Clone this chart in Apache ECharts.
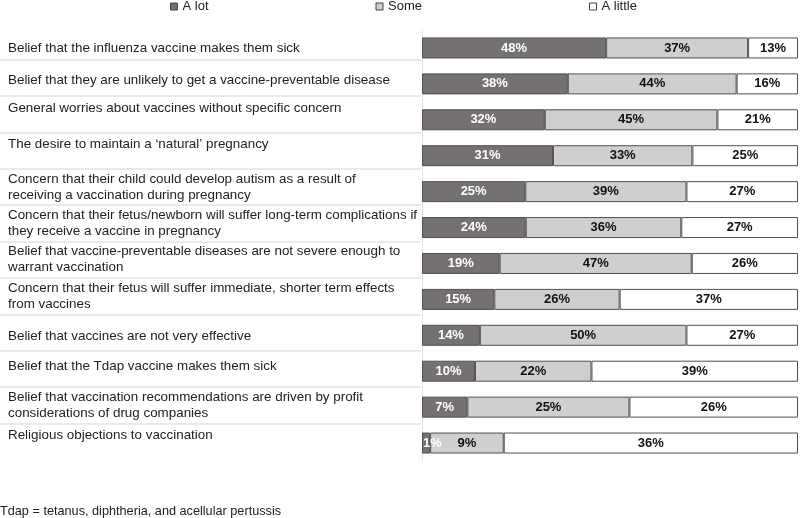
<!DOCTYPE html>
<html>
<head>
<meta charset="utf-8">
<script src="https://cdn.jsdelivr.net/npm/echarts@6/dist/echarts.min.js"></script>
<style>html,body{margin:0;padding:0;background:#fff;}#c{width:800px;height:518px;}</style>
</head>
<body>
<div id="c"></div>
<script>
const categories = [
  "Belief that the influenza vaccine makes them sick",
  "Belief that they are unlikely to get a vaccine-preventable disease",
  "General worries about vaccines without specific concern",
  "The desire to maintain a \u2018natural\u2019 pregnancy",
  "Concern that their child could develop autism as a result of\nreceiving a vaccination during pregnancy",
  "Concern that their fetus/newborn will suffer long-term complications if\nthey receive a vaccine in pregnancy",
  "Belief that vaccine-preventable diseases are not severe enough to\nwarrant vaccination",
  "Concern that their fetus will suffer immediate, shorter term effects\nfrom vaccines",
  "Belief that vaccines are not very effective",
  "Belief that the Tdap vaccine makes them sick",
  "Belief that vaccination recommendations are driven by profit\nconsiderations of drug companies",
  "Religious objections to vaccination"
];
const seriesNames = ["A lot", "Some", "A little"];
const aLot    = [48, 38, 32, 31, 25, 24, 19, 15, 14, 10, 7, 1];
const some    = [37, 44, 45, 33, 39, 36, 47, 26, 50, 22, 25, 9];
const aLittle = [13, 16, 21, 25, 27, 27, 26, 37, 27, 39, 26, 36];
const footnote = "Tdap = tetanus, diphtheria, and acellular pertussis";

// layout only: vertical nudge (px) of each row's text inside its table cell
const labelNudge = [7, 3, -6, -6, 0, 0, 0, 0, 4, -3, 0, -6];

const raw = [aLot, some, aLittle];
const totals = categories.map((_, i) => aLot[i] + some[i] + aLittle[i]);
const colors = ["#767171", "#d0cece", "#ffffff"];
const labelColors = ["#ffffff", "#111111", "#111111"];
const FONT = "'Liberation Sans', Arial, Helvetica, sans-serif";

const tableText = {fontFamily: FONT, fontSize: 13.4, lineHeight: 16, color: '#222'};
const tableRich = {};
labelNudge.forEach((d, i) => {
  tableRich['n' + i] = Object.assign({}, tableText, {
    padding: d >= 0 ? [2 * d, 0, 0, 0] : [0, 0, -2 * d, 0]
  });
});

const chart = echarts.init(document.getElementById('c'), null, {renderer: 'canvas'});
chart.setOption({
  animation: false,
  backgroundColor: '#ffffff',
  title: {
    text: footnote,
    left: 0, top: 505, padding: 0,
    textStyle: {fontFamily: FONT, fontSize: 12.7, fontWeight: 'normal', color: '#222'}
  },
  legend: {
    top: 0, left: 170, padding: 0,
    itemWidth: 7, itemHeight: 7, itemGap: 167,
    icon: 'rect',
    data: seriesNames,
    textStyle: {fontFamily: FONT, fontSize: 13, color: '#222'},
    itemStyle: {borderColor: '#444', borderWidth: 1}
  },
  grid: [
    {left: 0, width: 421, top: 23, height: 437, containLabel: false},
    {left: 422, right: 2, top: 30, height: 431, containLabel: false}
  ],
  xAxis: [
    {gridIndex: 0, type: 'value', show: false, min: 0, max: 100},
    {gridIndex: 1, type: 'value', show: false, min: 0, max: 100}
  ],
  yAxis: [
    {
      gridIndex: 0, type: 'category', inverse: true, data: categories,
      axisLine: {show: false}, axisTick: {show: false},
      axisLabel: Object.assign({
        inside: true, align: 'left', margin: 8,
        formatter: (value, index) => labelNudge[index] ? '{n' + index + '|' + value + '}' : value,
        rich: tableRich
      }, tableText),
      splitLine: {show: true, showMinLine: false, showMaxLine: false, lineStyle: {color: '#e3e3e3', width: 1.5}}
    },
    {
      gridIndex: 1, type: 'category', inverse: true, data: categories,
      axisLine: {show: true, lineStyle: {color: '#e3e3e3', width: 1}},
      axisTick: {show: false}, axisLabel: {show: false}, splitLine: {show: false}
    }
  ],
  series: seriesNames.map((name, s) => ({
    name: name,
    type: 'bar',
    stack: 'total',
    xAxisIndex: 1, yAxisIndex: 1,
    barWidth: 21,
    itemStyle: {color: colors[s], borderColor: '#505050', borderWidth: 1},
    label: {
      show: true, position: 'inside',
      fontFamily: FONT, fontSize: 13, fontWeight: 'bold', color: labelColors[s],
      formatter: p => raw[s][p.dataIndex] + '%'
    },
    data: raw[s].map((v, i) => {
      const share = v / totals[i] * 100;
      const item = {value: share};
      if (share < 4) item.label = {position: 'insideLeft', distance: 1};
      return item;
    })
  }))
});
</script>
</body>
</html>
